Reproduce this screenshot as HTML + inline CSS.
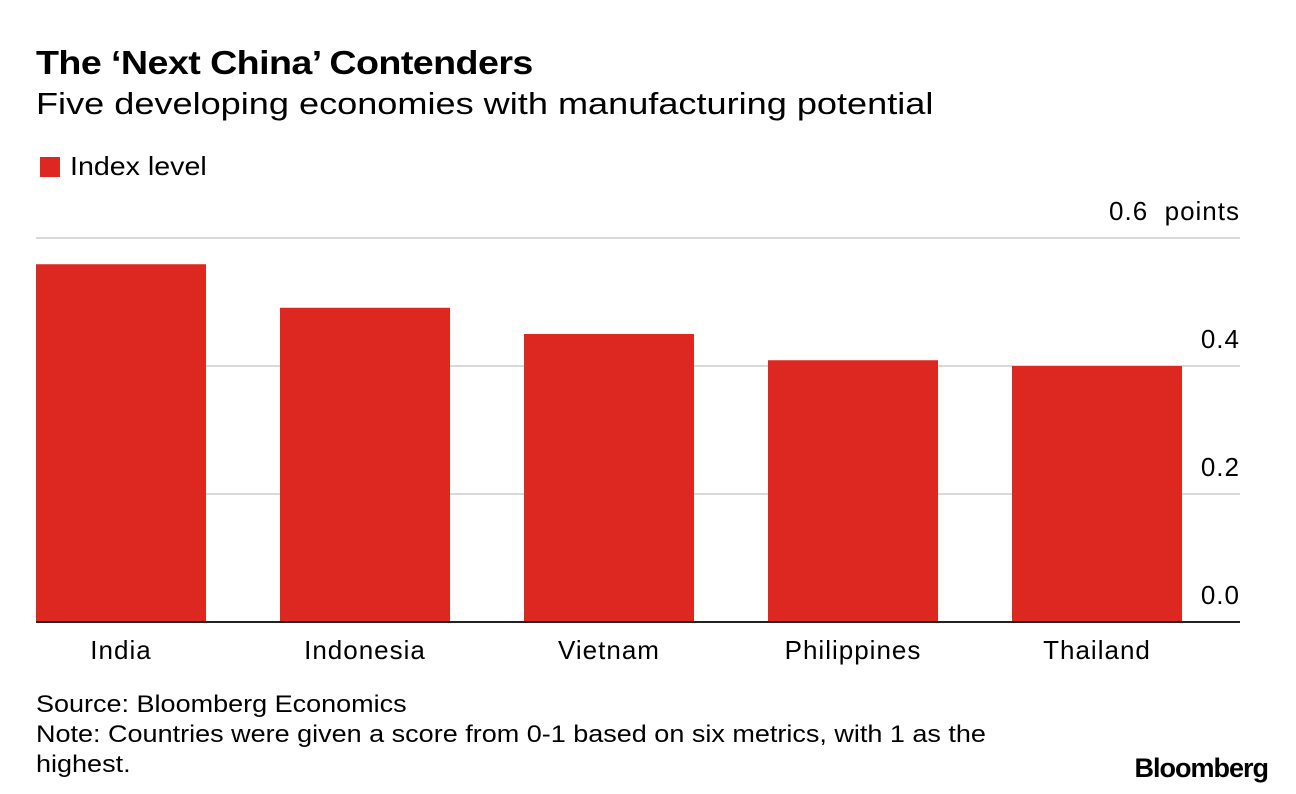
<!DOCTYPE html>
<html><head><meta charset="utf-8"><style>
body{margin:0;width:1296px;height:794px;background:#fff;font-family:"Liberation Sans",Arial,sans-serif;color:#000;overflow:hidden;position:relative}
.t{position:absolute;white-space:nowrap;transform-origin:0 0}
</style></head><body>
<div class="t" style="left:36px;top:44px;font-size:33px;font-weight:bold;letter-spacing:-0.5px;transform:scaleX(1.14)">The ‘Next China’ Contenders</div>
<div class="t" style="left:36px;top:86px;font-size:31px;transform:scaleX(1.165)">Five developing economies with manufacturing potential</div>
<div class="t" style="left:40px;top:151px;font-size:26px"><span style="display:inline-block;width:20px;height:20px;background:#dc2820;vertical-align:-2px;margin-right:10px"></span><span style="display:inline-block;transform:scaleX(1.1);transform-origin:0 0">Index level</span></div>
<svg id="chart" width="1296" height="794" style="position:absolute;left:0;top:0"></svg>
<div class="t" style="left:36px;top:690px;font-size:24px;line-height:30px;transform:scaleX(1.125)">Source: Bloomberg Economics<br>Note: Countries were given a score from 0-1 based on six metrics, with 1 as the<br>highest.</div>
<div class="t" style="right:28px;top:753px;font-size:27px;font-weight:bold;letter-spacing:-1px">Bloomberg</div>
<script>
const categories=["India","Indonesia","Vietnam","Philippines","Thailand"];
const values=[0.559,0.491,0.45,0.409,0.4];
const ticks=[0,0.2,0.4,0.6];
const tickLabels=["0.0","0.2","0.4","0.6  points"];
const svg=document.getElementById('chart');
const NS='http://www.w3.org/2000/svg';
const y0=622,ppu=640,x0=36,step=244,bw=170,right=1240;
const y=v=>y0-v*ppu;
function mk(tag,attrs){const e=document.createElementNS(NS,tag);for(const k in attrs)e.setAttribute(k,attrs[k]);svg.appendChild(e);return e;}
ticks.forEach((t,i)=>{
 if(t>0){const g=mk('line',{x1:x0,x2:right,y1:y(t),y2:y(t),stroke:'#d9d9d9','stroke-width':2});
 
 }
 const tx=mk('text',{x:right,y:y(t)-18,'text-anchor':'end','font-size':26,'font-family':'Liberation Sans, Arial, sans-serif',style:'white-space:pre','letter-spacing':'1'});
 tx.textContent=tickLabels[i];
 
 
});
categories.forEach((c,i)=>{
 const bx=x0+i*step;
 const r=mk('rect',{x:bx,y:y(values[i]),width:bw,height:values[i]*ppu,fill:'#dc2820'});
 
 
 const tx=mk('text',{x:bx+bw/2,y:659,'text-anchor':'middle','font-size':26,'font-family':'Liberation Sans, Arial, sans-serif','letter-spacing':'1'});
 tx.textContent=c;
 
 
});
const ax=mk('line',{x1:x0,x2:right,y1:y0,y2:y0,stroke:'#222','stroke-width':2});


</script>
</body></html>
